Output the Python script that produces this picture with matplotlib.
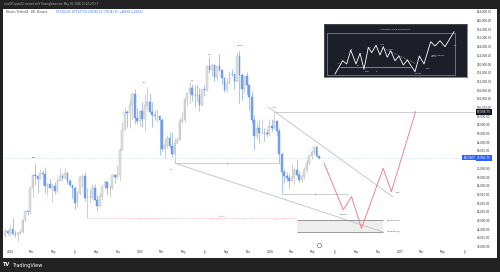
import numpy as np
import pandas as pd
import matplotlib
matplotlib.use("Agg")
import matplotlib.pyplot as plt
import matplotlib.dates as mdates
import matplotlib.transforms as mtransforms
from matplotlib.patches import Rectangle

# weekly BTCUSDT candles (Binance), week starting on Monday
week_start = pd.date_range("2023-12-18", periods=127, freq="7D")
first_open = 41370
highs = [44750, 43800,
         45900, 48970, 43580, 42840, 43880, 48590, 52820, 52980, 64000, 69200, 73780, 68950, 71770,
         71300, 72800, 65450, 67200, 64730, 65500, 67700, 71980, 70000, 71950, 70200, 66900, 64500,
         63800, 61400, 68370, 69400, 70080, 62740, 61800, 65000, 64960, 59800, 60660, 64130, 66500,
         66000, 64480, 69500, 69520, 73620, 81500, 93480, 99590, 98700, 104090, 107000, 108350, 99960,
         98980,
         102720, 106400, 109590, 106460, 102500, 98830, 99480, 96500, 95000, 85300, 87450, 88770,
         88500, 86100, 86430, 95760, 97900, 104360, 106700, 111980, 110720, 110400, 110530, 108950,
         108530, 110530, 119500, 123220, 120250, 119800, 119300, 124470, 117630, 113500, 113380,
         116800, 117900, 115500, 125700, 126200, 115970, 114000, 116400, 110700, 107500, 96600,
         93100, 94150, 94600, 90400, 90000, 94800,
         94700, 98098.75, 93800, 90500, 79300, 71800, 70300, 69800, 74000, 72500, 76500, 70800,
         69500, 72600, 75800, 78500, 79800, 82400, 82800, 77677.59]
lows = [40500, 41300,
        40750, 41500, 40280, 38550, 41880, 42260, 47700, 50520, 50900, 59000, 64500, 60770, 66970,
        64500, 60660, 59600, 62800, 56550, 60190, 60750, 66080, 66620, 67300, 65000, 63380, 58400,
        53500, 54260, 59600, 63450, 57120, 49000, 56080, 57780, 57200, 52550, 54580, 57490, 62700,
        59830, 58900, 62420, 65060, 67450, 66830, 80200, 89500, 90790, 90500, 94150, 92230, 92500,
        91300,
        91200, 89250, 99500, 97780, 91230, 94090, 93400, 78260, 80000, 76600, 81280, 81560,
        77150, 74500, 83100, 85000, 92800, 93380, 100720, 102100, 103070, 100370, 102660, 98200,
        100900, 105100, 107470, 115740, 114700, 112000, 112650, 116800, 110680, 107270, 107260,
        110620, 114400, 108650, 111500, 102000, 103500, 106700, 106300, 98950, 93000, 80600,
        85300, 83800, 87600, 84400, 86500, 87000,
        89300, 90200, 87200, 74600, 60000, 65200, 66000, 63000, 65500, 65000, 68800, 65800,
        65600, 67000, 70500, 73600, 76200, 78300, 77000, 76085.32]
closes = [42990, 42280,
          43950, 41730, 41580, 42030, 42580, 48300, 52140, 51730, 63120, 68960, 68400, 67210, 69650,
          69360, 63920, 64940, 63120, 63900, 61480, 66270, 68510, 67760, 69650, 66200, 64250, 62770,
          55860, 60800, 68150, 68250, 58120, 58700, 58920, 62850, 57300, 54870, 59130, 63580, 65600,
          62820, 62850, 69030, 67930, 68750, 80370, 89850, 98000, 97460, 101110, 106060, 95200, 93720,
          98360,
          94500, 101330, 102610, 97700, 96460, 96120, 96250, 94270, 80700, 82580, 86080, 82330,
          78370, 83760, 85170, 93750, 94270, 104120, 106450, 109010, 105790, 105710, 105530, 100960,
          108360, 108250, 119090, 117300, 119400, 114200, 119300, 117400, 113500, 108250, 111140,
          115270, 115230, 112150, 123500, 115100, 108650, 114500, 110500, 104700, 94250, 86800,
          90400, 88200, 88400, 88300, 87800, 91500,
          90600, 93600, 89000, 78600, 70400, 68500, 67400, 66300, 68200, 71300, 69000, 66700,
          68500, 71000, 74500, 77800, 79300, 81900, 77451.61, 76961.75]
opens = [first_open] + closes[:-1]

last_price = 76961.75
test_price = 98098.75
box_top, box_bottom = 48290.36, 42845.14

# drawn levels and trendlines
ar_level = ("2025-04-07", "2026-01-28", 74500)
low_level = ("2026-02-02", "2026-08-07", 60000)
sweep_level = ("2024-08-05", "2026-03-17", 49000)
box_span = ("2026-03-17", "2026-11-14")
lower_trend = (["2025-04-09", "2026-11-14"], [74300, 42700])
upper_trend = (["2025-12-26", "2026-12-12"], [100200, 58800])

# projected path
path_dates = ["2026-06-01", "2026-07-25", "2026-08-17", "2026-09-14",
              "2026-11-14", "2026-12-07", "2027-02-13"]
path_prices = [74300, 52900, 59000, 44400, 72000, 61300, 98100]

# wyckoff labels on the chart
labels = ["psy", "BC", "AR", "ST", "UT", "UTAD", "test"]
label_dates = ["2024-03-08", "2025-01-12", "2025-03-31", "2025-05-26",
               "2025-07-13", "2025-10-08", "2026-01-14"]
label_prices = [76800, 111300, 71700, 112600, 124600, 128700, 100200]

# time axis
tick_dates = ["2024-01-01", "2024-03-01", "2024-05-01", "2024-07-01", "2024-09-01", "2024-11-01",
              "2025-01-01", "2025-03-01", "2025-05-01", "2025-07-01", "2025-09-01", "2025-11-01",
              "2026-01-01", "2026-03-01", "2026-05-01", "2026-07-01", "2026-09-01", "2026-11-01",
              "2027-01-01", "2027-03-01", "2027-05-01", "2027-07-01"]
tick_names = ["2024", "Mar", "May", "Jul", "Sep", "Nov", "2025", "Mar", "May", "Jul", "Sep", "Nov",
              "2026", "Mar", "May", "Jul", "Sep", "Nov", "2027", "Mar", "May", "Jul"]

# accumulation schematic (inset, in its own pixel space)
schem_x = [11, 18.7, 22.7, 26.7, 32, 36, 40, 44.3, 47.7, 52, 56, 59.3, 63.3, 66.7, 71, 75,
           79.3, 83.3, 91, 95.3, 100, 106.7, 111, 116, 121, 130]
schem_y = [50, 36.7, 40, 26, 40, 29.3, 45.3, 23.3, 28.7, 21.3, 31, 22.7, 33.3, 26.7, 36.7, 32,
           41, 36, 47.7, 32, 40, 17.7, 22, 16.7, 22.7, 7.7]
schem_labels = ["PS", "SC", "AR", "ST", "UT", "UTAD", "TEST", "SOW", "Z", "SPRING", "TEST",
                "JUMP ACROSS\nCREEK", "LPS"]
schem_lx = [14.3, 26.7, 33.3, 36, 45, 56, 64.3, 41, 52, 91, 101, 106.7, 130]
schem_ly = [39.3, 25.3, 41, 29.3, 23.3, 20, 25.3, 47, 47, 49.3, 44.3, 32, 21.3]

W, H = 500, 272
UP_FACE, UP_EDGE = "#e3e3e3", "#b4b4b4"
DN_FACE, DN_EDGE = "#77a3f2", "#5b8ce6"
RED = "#f07080"
GRAY = "#b8bbc2"

fig = plt.figure(figsize=(W / 100, H / 100), dpi=100, facecolor="#222222")
fig.patches.append(Rectangle((3 / W, 1 - 258 / H), 494 / W, 249 / H, transform=fig.transFigure,
                             facecolor="white", edgecolor="none", zorder=-10))

ax = fig.add_axes([3 / W, 1 - 248 / H, 472 / W, 238 / H])
ax.set_zorder(1)
ax.set_facecolor("none")
for s in ax.spines.values():
    s.set_visible(False)

x = mdates.date2num(week_start)
o = np.array(opens, dtype=float)
c = np.array(closes, dtype=float)
hi = np.array(highs, dtype=float)
lo = np.array(lows, dtype=float)
up = c >= o
dn = ~up
ax.vlines(x[up], lo[up], hi[up], color=UP_EDGE, lw=0.45, zorder=2)
ax.vlines(x[dn], lo[dn], hi[dn], color=DN_FACE, lw=0.45, zorder=2)
ax.bar(x[up], np.maximum(np.abs(c - o)[up], 150), bottom=np.minimum(o, c)[up], width=4.8,
       color=UP_FACE, edgecolor=UP_EDGE, lw=0.3, zorder=3)
ax.bar(x[dn], np.maximum(np.abs(c - o)[dn], 150), bottom=np.minimum(o, c)[dn], width=4.8,
       color=DN_FACE, edgecolor=DN_EDGE, lw=0.3, zorder=3)

d = pd.to_datetime
xmin = mdates.date2num(d("2023-12-12"))
xmax = mdates.date2num(d("2027-07-30"))
ax.set_xlim(xmin, xmax)
ax.set_ylim(35330, 144850)

# current price line
ax.axhline(last_price, color="#a9c2f2", lw=0.4, ls=(0, (1, 1.5)), zorder=1)

# levels
ax.hlines(ar_level[2], d(ar_level[0]), d(ar_level[1]), color=GRAY, lw=0.5, zorder=1)
ax.plot(d("2025-09-02"), ar_level[2], marker="|", ms=1.5, color=RED, mew=0.4)
ax.hlines(low_level[2], d(low_level[0]), d(low_level[1]), color=GRAY, lw=0.5, zorder=1)
ax.plot(d("2026-05-07"), low_level[2], marker="|", ms=1.5, color=RED, mew=0.4)
ax.hlines(test_price, d("2026-01-12"), d("2027-07-30"), color=GRAY, lw=0.5, zorder=1)
ax.hlines(sweep_level[2], d(sweep_level[0]), d(sweep_level[1]), color=RED, lw=0.4,
          ls=(0, (2, 1.5)), alpha=0.7, zorder=1)
ax.text(d("2025-08-18"), sweep_level[2] + 400, "(start)", color=RED, fontsize=1.6,
        ha="center", va="bottom")

# demand box
bx0, bx1 = mdates.date2num(d(box_span[0])), mdates.date2num(d(box_span[1]))
ax.add_patch(Rectangle((bx0, box_bottom), bx1 - bx0, box_top - box_bottom,
                       facecolor="#eeeeee", edgecolor="none", zorder=1))
ax.hlines([box_top, box_bottom], bx0, bx1, color="#8a8a8a", lw=0.6, zorder=2)
for yv in (box_top, box_bottom):
    ax.text(bx1 + 10, yv, f"({yv:,.2f})", fontsize=1.7, color="#333333", va="center")

# trendlines
ax.plot(d(lower_trend[0]), lower_trend[1], color=GRAY, lw=0.55, zorder=1)
ax.plot(d(upper_trend[0]), upper_trend[1], color=GRAY, lw=0.55, zorder=1)

# projection
ax.plot(d(path_dates), path_prices, color=RED, lw=0.6, zorder=4)
ax.text(d("2026-07-26"), 51300, "sp/trap", fontsize=1.6, color="#444444", ha="center", va="top")
ax.text(d("2026-12-20"), 60700, "test", fontsize=1.6, color="#444444", ha="left", va="center")

for t, ld, lp in zip(labels, label_dates, label_prices):
    ax.text(d(ld), lp, t, fontsize=1.7, color="#444444", ha="center", va="center")

# event marker
ax.plot(d("2026-05-18"), 36900, marker="o", ms=3.2, mfc="white", mec="#d040c0", mew=0.5,
        clip_on=False, zorder=5)

# axes ticks
ax.yaxis.tick_right()
ax.set_yticks(np.arange(36000, 144001, 4000))
ax.yaxis.set_major_formatter(matplotlib.ticker.FuncFormatter(lambda v, p: f"{v:,.2f}"))
ax.tick_params(axis="y", length=0, pad=1.6, labelsize=2.0, labelcolor="#333333")
ax.set_xticks(mdates.date2num(d(tick_dates)))
ax.set_xticklabels(tick_names)
ax.tick_params(axis="x", length=0, pad=1.2, labelsize=2.0, labelcolor="#333333")

# price tags
blend = mtransforms.blended_transform_factory(ax.transAxes, ax.transData)
ax.text(1.0, last_price, "BTCUSDT", transform=blend, ha="right", va="center", fontsize=1.8,
        color="white", bbox=dict(boxstyle="square,pad=0.35", fc="#2962ff", ec="none"), zorder=6)
ax.text(1.004, last_price, f"{last_price:,.2f}", transform=blend, ha="left", va="center",
        fontsize=2.0, color="white", bbox=dict(boxstyle="square,pad=0.35", fc="#2962ff", ec="none"),
        zorder=6, clip_on=False)
ax.text(1.004, test_price, f"{test_price:,.2f}", transform=blend, ha="left", va="center",
        fontsize=2.0, color="white", bbox=dict(boxstyle="square,pad=0.35", fc="#131722", ec="none"),
        zorder=6, clip_on=False)

# header texts
fig.text(4 / W, 1 - 4.5 / H, "LordOfCrypto12 created with TradingView.com, May 18, 2026 13:14 UTC+7",
         color="#bbbbbb", fontsize=1.8, va="center")
fig.text(6 / W, 1 - 12 / H, "Bitcoin / TetherUS \u00b7 1W \u00b7 Binance", color="#333333",
         fontsize=1.8, va="center")
fig.text(56 / W, 1 - 12 / H, "O77,451.61  H77,677.59  L76,085.32  C76,961.75  \u2212489.86 (\u22120.63%)",
         color="#2962ff", fontsize=1.8, va="center")
fig.text(3 / W, 1 - 265 / H, "TV", color="white", fontsize=3.6, weight="bold", va="center")
fig.text(12 / W, 1 - 265 / H, "TradingView", color="white", fontsize=3.6, va="center")

# inset schematic
ins = fig.add_axes([324 / W, 1 - 77 / H, 143 / W, 53 / H])
ins.set_zorder(2)
ins.set_facecolor("#1c1f27")
ins.set_xticks([])
ins.set_yticks([])
for s in ins.spines.values():
    s.set_color("#555a63")
    s.set_linewidth(0.5)
ins.set_xlim(0, 143)
ins.set_ylim(53, 0)
ins.add_patch(Rectangle((2.7, 8.7), 128.3, 42.3, facecolor="none", edgecolor="#8d9099", lw=0.5))
ins.plot(schem_x, schem_y, color="white", lw=0.6)
ins.plot([16, 86], [43.3, 43.3], color="#cccccc", lw=0.4)
ins.plot([59, 91], [24, 39.3], color="#cccccc", lw=0.4, ls=(0, (1.5, 1.5)))
ins.text(71, 5.2, "ACCUMULATION SCHEMATIC", color="white", fontsize=1.5, ha="center", va="center")
for t, lx, ly in zip(schem_labels, schem_lx, schem_ly):
    ins.text(lx, ly, t, color="white", fontsize=1.4, ha="left", va="center", linespacing=0.9)

fig.savefig("out.png", dpi=100, facecolor=fig.get_facecolor())
